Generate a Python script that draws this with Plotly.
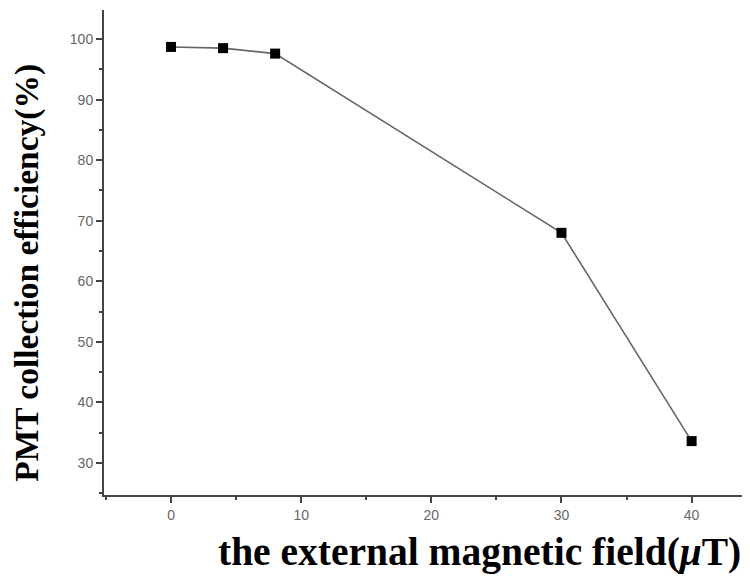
import plotly.graph_objects as go

field = [0, 4, 8, 30, 40]
efficiency = [98.7, 98.5, 97.6, 68.0, 33.6]

fig = go.Figure()
fig.add_trace(go.Scatter(
    x=field, y=efficiency, mode="lines+markers",
    line=dict(color="#666666", width=1.6),
    marker=dict(symbol="square", size=10, color="black"),
    showlegend=False,
))

axis_common = dict(
    showline=True, linecolor="#444444", linewidth=2,
    ticks="outside", ticklen=6, tickwidth=1.5, tickcolor="#444444",
    showgrid=False, zeroline=False, automargin=False,
    tickfont=dict(family="Liberation Sans, Arial", size=14, color="#666666"),
    minor=dict(ticks="outside", ticklen=3, tickwidth=1.5, tickcolor="#444444"),
)

fig.update_xaxes(range=[-5.15, 45.1], tickvals=[0, 10, 20, 30, 40],
                 minor_dtick=5, minor_tick0=0, **axis_common)
fig.update_yaxes(range=[24.7, 104.8], tickvals=[30, 40, 50, 60, 70, 80, 90, 100],
                 minor_dtick=5, minor_tick0=0, **axis_common)

fig.add_annotation(text="<b>PMT collection efficiency(%)</b>", xref="paper", yref="paper",
                   x=-0.1178, y=0.458, xanchor="center", yanchor="middle",
                   textangle=-90, showarrow=False,
                   font=dict(family="Liberation Serif, Times New Roman", size=33.5, color="black"))
fig.add_annotation(text="<b>the external magnetic field(<i>μ</i>T)</b>", xref="paper", yref="paper",
                   x=0.5735, y=-0.118, xanchor="center", yanchor="middle", showarrow=False,
                   font=dict(family="Liberation Serif, Times New Roman", size=39.5, color="black"))

fig.update_layout(
    width=750, height=580,
    margin=dict(l=96, r=0, t=2, b=93),
    paper_bgcolor="white", plot_bgcolor="white",
)
fig.write_html("out.html")
